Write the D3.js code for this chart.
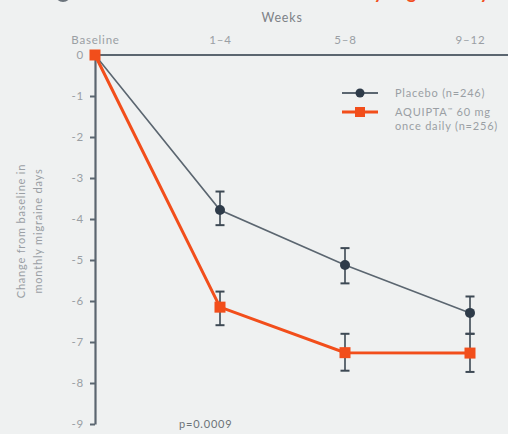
<!DOCTYPE html>
<html>
<head>
<meta charset="utf-8">
<script src="https://cdn.jsdelivr.net/npm/d3@7"></script>
<style>
  html, body { margin: 0; padding: 0; background: #eff1f1; }
  svg { display: block; font-family: Lato, "Open Sans", sans-serif; }
  .lbl { letter-spacing: 0.8px; }
</style>
</head>
<body>
<svg id="chart" width="508" height="434"></svg>
<script>
// Time points (weeks) and mean change from baseline in monthly migraine days
const periods = ["Baseline", "1–4", "5–8", "9–12"];
const placeboMean = [0, -3.78, -5.12, -6.29];
const placeboLow  = [0, -4.15, -5.57, -6.80];
const placeboHigh = [0, -3.33, -4.71, -5.89];
const aquiptaMean = [0, -6.15, -7.26, -7.27];
const aquiptaLow  = [0, -6.59, -7.70, -7.73];
const aquiptaHigh = [0, -5.77, -6.80, -6.80];
const yTicks = [0, -1, -2, -3, -4, -5, -6, -7, -8, -9];

const navy = "#2e3b49";
const grayLine = "#5b6670";
const orange = "#f24e1b";
const textGray = "#9a9fa4";
const font = "Lato, 'Open Sans', sans-serif";

const svg = d3.select("#chart");
const W = 508;

const x = d3.scalePoint().domain(periods).range([95, 470]);
const y = d3.scaleLinear().domain([0, -9]).range([55, 424]);

// Heading, clipped by the top edge
svg.append("circle").attr("cx", 63).attr("cy", -6).attr("r", 8).attr("fill", "#6b747c");
svg.append("text")
  .attr("x", 497).attr("y", -1)
  .attr("text-anchor", "end")
  .attr("font-size", 18).attr("font-weight", 700)
  .attr("fill", orange)
  .text("in monthly migraine days");

// Axis titles
svg.append("text").attr("class", "lbl")
  .attr("x", 282).attr("y", 22)
  .attr("text-anchor", "middle")
  .attr("font-size", 12.5).attr("fill", "#7d8287")
  .text("Weeks");

const yTitle = svg.append("text").attr("class", "lbl")
  .attr("transform", "translate(30,231) rotate(-90)")
  .attr("text-anchor", "middle")
  .attr("font-size", 11).attr("fill", textGray);
yTitle.append("tspan").attr("x", 0).attr("dy", -5).text("Change from baseline in");
yTitle.append("tspan").attr("x", 0).attr("dy", 17).text("monthly migraine days");

// X axis along y = 0
const xAxis = svg.append("g")
  .attr("transform", `translate(0,${y(0)})`)
  .call(d3.axisTop(x).tickSize(0).tickPadding(11));
xAxis.select(".domain").remove();
xAxis.selectAll("text").attr("class", "lbl").attr("font-size", 11.5).attr("fill", textGray).attr("font-family", font);
svg.append("line")
  .attr("x1", x("Baseline")).attr("x2", W)
  .attr("y1", y(0)).attr("y2", y(0))
  .attr("stroke", grayLine).attr("stroke-width", 1.8);

// Y axis
const yAxis = svg.append("g")
  .attr("transform", `translate(${x("Baseline")},0)`)
  .call(d3.axisLeft(y).tickValues(yTicks).tickSize(5).tickSizeOuter(0).tickPadding(6)
    .tickFormat(d => d === 0 ? "0" : "-" + Math.abs(d)));
yAxis.select(".domain").attr("stroke", grayLine).attr("stroke-width", 2.2);
yAxis.selectAll(".tick line").attr("stroke", grayLine).attr("stroke-width", 2);
yAxis.selectAll("text").attr("class", "lbl").attr("font-size", 11.5).attr("fill", textGray).attr("font-family", font);

// Series lines
const line = d3.line().x((d, i) => x(periods[i])).y(d => y(d));
svg.append("path").datum(placeboMean)
  .attr("d", line).attr("fill", "none")
  .attr("stroke", grayLine).attr("stroke-width", 1.6);
svg.append("path").datum(aquiptaMean)
  .attr("d", line).attr("fill", "none")
  .attr("stroke", orange).attr("stroke-width", 3);

// Error bars
function errorBars(lows, highs) {
  const g = svg.append("g").attr("stroke", "#3d4954").attr("stroke-width", 1.6);
  periods.forEach((p, i) => {
    if (i === 0) return;
    const cx = x(p);
    g.append("line").attr("x1", cx).attr("x2", cx).attr("y1", y(lows[i])).attr("y2", y(highs[i]));
    [lows[i], highs[i]].forEach(v => {
      g.append("line").attr("x1", cx - 4.5).attr("x2", cx + 4.5).attr("y1", y(v)).attr("y2", y(v)).attr("stroke-width", 2);
    });
  });
}
errorBars(placeboLow, placeboHigh);
errorBars(aquiptaLow, aquiptaHigh);

// Markers
svg.append("g").selectAll("circle").data(placeboMean).join("circle")
  .attr("cx", (d, i) => x(periods[i])).attr("cy", d => y(d))
  .attr("r", 5).attr("fill", navy);
svg.append("g").selectAll("rect").data(aquiptaMean).join("rect")
  .attr("x", (d, i) => x(periods[i]) - 5.5).attr("y", d => y(d) - 5.5)
  .attr("width", 11).attr("height", 11).attr("fill", orange);

// Legend
const lg = svg.append("g").attr("transform", "translate(342,93)");
lg.append("line").attr("x1", 0).attr("x2", 36).attr("y1", 0).attr("y2", 0).attr("stroke", grayLine).attr("stroke-width", 1.8);
lg.append("circle").attr("cx", 18).attr("cy", 0).attr("r", 4.5).attr("fill", navy);
lg.append("text").attr("class", "lbl").attr("x", 53).attr("y", 4).attr("font-size", 11).attr("fill", textGray).text("Placebo (n=246)");
lg.append("line").attr("x1", 0).attr("x2", 36).attr("y1", 19).attr("y2", 19).attr("stroke", orange).attr("stroke-width", 3);
lg.append("rect").attr("x", 13).attr("y", 14).attr("width", 10).attr("height", 10).attr("fill", orange);
const t2 = lg.append("text").attr("class", "lbl").attr("x", 53).attr("y", 23).attr("font-size", 11).attr("fill", textGray);
t2.append("tspan").text("AQUIPTA");
t2.append("tspan").attr("font-size", 6).attr("dy", -4).text("™");
t2.append("tspan").attr("dy", 4).text(" 60 mg");
lg.append("text").attr("class", "lbl").attr("x", 53).attr("y", 37).attr("font-size", 11).attr("fill", textGray).text("once daily (n=256)");

// p-value
svg.append("text").attr("class", "lbl")
  .attr("x", 179).attr("y", 428)
  .attr("font-size", 11).attr("fill", "#6d7378")
  .text("p=0.0009");
</script>
</body>
</html>
